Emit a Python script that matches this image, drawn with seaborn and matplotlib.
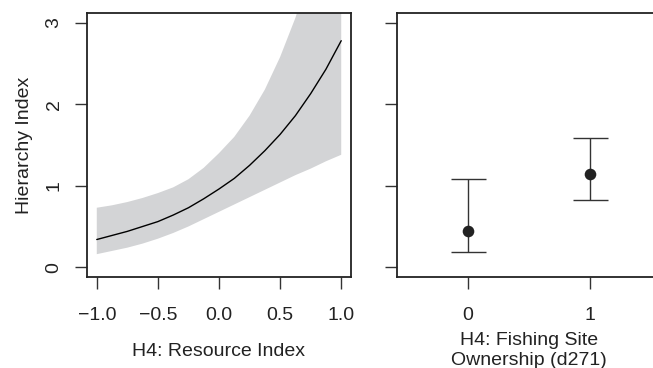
import numpy as np
import pandas as pd
import matplotlib
matplotlib.use("Agg")
import matplotlib.pyplot as plt
import seaborn as sns

# ==================================================
# DATA
# ==================================================

resource_x = [-1.0, -0.875, -0.75, -0.625, -0.5, -0.375, -0.25, -0.125, 0.0,
              0.125, 0.25, 0.375, 0.5, 0.625, 0.75, 0.875, 1.0]
fit_y = [0.34, 0.39, 0.44, 0.50, 0.56, 0.64, 0.73, 0.84, 0.96,
         1.09, 1.25, 1.43, 1.63, 1.86, 2.13, 2.43, 2.78]
lower_y = [0.16, 0.20, 0.24, 0.29, 0.35, 0.42, 0.50, 0.59, 0.68,
           0.77, 0.86, 0.95, 1.04, 1.13, 1.21, 1.30, 1.38]
upper_y = [0.73, 0.76, 0.80, 0.85, 0.91, 0.98, 1.08, 1.22, 1.40,
           1.60, 1.86, 2.18, 2.58, 3.06, 3.64, 4.30, 5.10]

ownership = [0, 1]
own_mean = [0.45, 1.14]
own_low = [0.19, 0.82]
own_high = [1.08, 1.59]

x_ticks_left = [-1.0, -0.5, 0.0, 0.5, 1.0]
x_labels_left = ["\u22121.0", "\u22120.5", "0.0", "0.5", "1.0"]
y_ticks = [0, 1, 2, 3]

# ==================================================
# STYLE
# ==================================================

sns.set_style("ticks")
plt.rcParams["font.family"] = ["Liberation Sans", "DejaVu Sans"]
plt.rcParams["font.size"] = 14

W, H = 653, 368
fig = plt.figure(figsize=(W / 100, H / 100), dpi=100)

ax1 = fig.add_axes([87 / W, (H - 277) / H, 264 / W, 264 / H])
ax2 = fig.add_axes([397 / W, (H - 277) / H, 264 / W, 264 / H])

band_color = "#d3d4d6"
dark = "#222222"

# ==================================================
# LEFT PANEL
# ==================================================

df = pd.DataFrame({"x": resource_x, "fit": fit_y, "lo": lower_y, "hi": upper_y})

ax1.fill_between(df["x"], df["lo"], df["hi"], color=band_color, linewidth=0)
sns.lineplot(data=df, x="x", y="fit", ax=ax1, color="black", linewidth=1.0)

ax1.set_xlim(-1.08, 1.08)
ax1.set_ylim(-0.12, 3.12)
ax1.set_xticks(x_ticks_left)
ax1.set_xticklabels(x_labels_left)
ax1.set_yticks(y_ticks)
ax1.set_yticklabels([str(v) for v in y_ticks], rotation=90, va="center")
ax1.set_xlabel("H4: Resource Index", labelpad=14)
ax1.set_ylabel("Hierarchy Index", labelpad=9)

# ==================================================
# RIGHT PANEL
# ==================================================

own = pd.DataFrame({"x": ownership, "m": own_mean, "lo": own_low, "hi": own_high})

ax2.errorbar(own["x"], own["m"],
             yerr=[own["m"] - own["lo"], own["hi"] - own["m"]],
             fmt="none", ecolor="#333333", elinewidth=1.0,
             capsize=12.6, capthick=1.0)
sns.scatterplot(data=own, x="x", y="m", ax=ax2, color=dark, s=70,
                edgecolor=dark, linewidth=0, zorder=5)

ax2.set_xlim(-0.58, 1.58)
ax2.set_ylim(-0.12, 3.12)
ax2.set_xticks(ownership)
ax2.set_xticklabels(["0", "1"])
ax2.set_yticks(y_ticks)
ax2.set_yticklabels([])
ax2.set_ylabel("")
ax2.set_xlabel("H4: Fishing Site\nOwnership (d271)", labelpad=6, linespacing=1.2)

for ax in (ax1, ax2):
    for s in ax.spines.values():
        s.set_visible(True)
        s.set_linewidth(1.3)
        s.set_color(dark)
    ax.tick_params(length=8.5, width=1.0, color="#333333",
                   labelsize=14, labelcolor="#222222")
    ax.tick_params(axis="x", pad=13)
    ax.tick_params(axis="y", pad=9)
    ax.xaxis.label.set_color("#222222")
    ax.yaxis.label.set_color("#222222")

fig.savefig("out.png", dpi=100)
